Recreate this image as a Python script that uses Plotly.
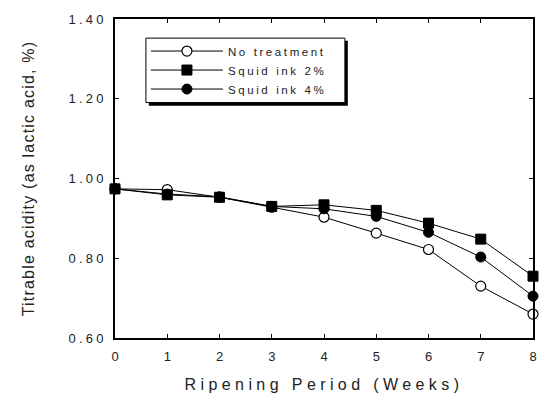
import plotly.graph_objects as go

weeks = [0, 1, 2, 3, 4, 5, 6, 7, 8]
no_treatment = [0.974, 0.972, 0.953, 0.928, 0.903, 0.863, 0.822, 0.730, 0.660]
squid_2 = [0.974, 0.959, 0.953, 0.930, 0.934, 0.920, 0.888, 0.848, 0.755]
squid_4 = [0.974, 0.961, 0.954, 0.930, 0.924, 0.905, 0.865, 0.803, 0.705]

x_ticks = [0, 1, 2, 3, 4, 5, 6, 7, 8]
y_ticks = [0.60, 0.80, 1.00, 1.20, 1.40]
y_ticklabels = ["0.60", "0.80", "1.00", "1.20", "1.40"]

FONT = "Liberation Sans, Arial, sans-serif"
TXT = "#222"

def sp(t, s):
    return f'<span style="letter-spacing:{s}px">{t}</span>'

fig = go.Figure()
fig.add_trace(go.Scatter(
    x=weeks, y=no_treatment, mode="lines+markers", name=sp("No treatment", 2.6),
    line=dict(color="black", width=1), cliponaxis=False,
    marker=dict(symbol="circle", size=10, color="white", line=dict(color="black", width=1.2)),
    legendrank=1))
fig.add_trace(go.Scatter(
    x=weeks, y=squid_4, mode="lines+markers", name=sp("Squid ink 4%", 2.6),
    line=dict(color="black", width=1), cliponaxis=False,
    marker=dict(symbol="circle", size=10, color="black", line=dict(color="black", width=1)),
    legendrank=3))
fig.add_trace(go.Scatter(
    x=weeks, y=squid_2, mode="lines+markers", name=sp("Squid ink 2%", 2.6),
    line=dict(color="black", width=1), cliponaxis=False,
    marker=dict(symbol="square", size=10, color="black", line=dict(color="black", width=1)),
    legendrank=2))

axis_common = dict(
    showline=True, linecolor="black", linewidth=1.5, mirror="ticks",
    ticks="inside", ticklen=4, tickcolor="black", tickwidth=1.2,
    showgrid=False, zeroline=False,
    tickfont=dict(family=FONT, size=13, color=TXT),
)

# legend frame with drop shadow (paper coordinates of the plot area)
fig.add_shape(type="rect", xref="paper", yref="paper", layer="above",
              x0=0.081, x1=0.557, y0=0.728, y1=0.932,
              fillcolor="black", line=dict(width=0))
fig.add_shape(type="rect", xref="paper", yref="paper", layer="above",
              x0=0.074, x1=0.55, y0=0.738, y1=0.94,
              fillcolor="white", line=dict(color="black", width=1))

fig.update_layout(
    width=549, height=403,
    margin=dict(l=115, r=16, t=17, b=65),
    paper_bgcolor="white", plot_bgcolor="white",
    showlegend=True,
    legend=dict(
        x=0.074, y=0.945, xanchor="left", yanchor="top",
        bgcolor="rgba(0,0,0,0)", borderwidth=0,
        font=dict(family=FONT, size=11.5, color=TXT),
        tracegroupgap=0, itemwidth=72,
    ),
    xaxis=dict(
        range=[0, 8], tickvals=x_ticks, ticktext=[str(v) for v in x_ticks],
        ticklabelstandoff=6,
        title=dict(text=sp("Ripening Period (Weeks)", 4.4),
                   font=dict(family=FONT, size=16, color=TXT), standoff=15),
        **axis_common),
    yaxis=dict(
        range=[0.60, 1.40], tickvals=y_ticks, ticktext=[sp(t, 3.2) for t in y_ticklabels],
        ticklabelstandoff=4,
        title=dict(text=sp("Titrable acidity (as lactic acid, %)", 1.2),
                   font=dict(family=FONT, size=16, color=TXT), standoff=30),
        **axis_common),
)

fig.write_html("out.html")
